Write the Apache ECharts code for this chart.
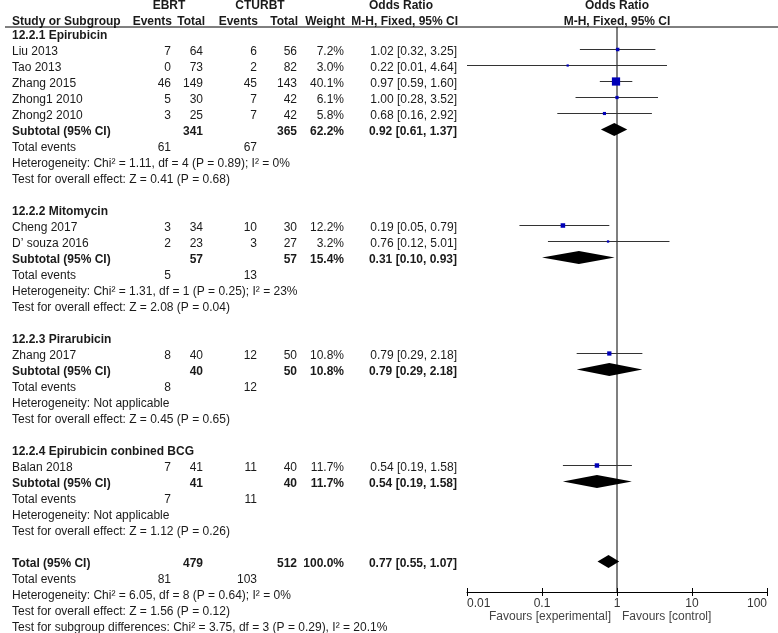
<!DOCTYPE html>
<html>
<head>
<meta charset="utf-8">
<script src="https://cdn.jsdelivr.net/npm/echarts@6/dist/echarts.min.js"></script>
<style>html,body{margin:0;padding:0;background:#fff}#c{width:778px;height:633px}</style>
</head>
<body>
<div id="c"></div>
<script>
// ---------- data ----------
const groupTitles = ['12.2.1 Epirubicin', '12.2.2 Mitomycin', '12.2.3 Pirarubicin', '12.2.4 Epirubicin conbined BCG'];
const studyNames = ['Liu 2013', 'Tao 2013', 'Zhang 2015', 'Zhong1 2010', 'Zhong2 2010', 'Cheng 2017', 'D\u2019 souza 2016', 'Zhang 2017', 'Balan 2018'];
const studyGroup = [0, 0, 0, 0, 0, 1, 1, 2, 3];
const ebrtEvents = [7, 0, 46, 5, 3, 3, 2, 8, 7];
const ebrtTotal = [64, 73, 149, 30, 25, 34, 23, 40, 41];
const cturbtEvents = [6, 2, 45, 7, 7, 10, 3, 12, 11];
const cturbtTotal = [56, 82, 143, 42, 42, 30, 27, 50, 40];
const studyWeight = [7.2, 3.0, 40.1, 6.1, 5.8, 12.2, 3.2, 10.8, 11.7];
const orEst = [1.02, 0.22, 0.97, 1.00, 0.68, 0.19, 0.76, 0.79, 0.54];
const orLow = [0.32, 0.01, 0.59, 0.28, 0.16, 0.05, 0.12, 0.29, 0.19];
const orHigh = [3.25, 4.64, 1.60, 3.52, 2.92, 0.79, 5.01, 2.18, 1.58];

const subEbrtTotal = [341, 57, 40, 41];
const subCturbtTotal = [365, 57, 50, 40];
const subWeight = [62.2, 15.4, 10.8, 11.7];
const subOr = [0.92, 0.31, 0.79, 0.54];
const subLow = [0.61, 0.10, 0.29, 0.19];
const subHigh = [1.37, 0.93, 2.18, 1.58];
const subEbrtEvents = [61, 5, 8, 7];
const subCturbtEvents = [67, 13, 12, 11];
const subHetero = ['Chi\u00b2 = 1.11, df = 4 (P = 0.89); I\u00b2 = 0%', 'Chi\u00b2 = 1.31, df = 1 (P = 0.25); I\u00b2 = 23%', 'Not applicable', 'Not applicable'];
const subEffect = ['Z = 0.41 (P = 0.68)', 'Z = 2.08 (P = 0.04)', 'Z = 0.45 (P = 0.65)', 'Z = 1.12 (P = 0.26)'];

const totalEbrtTotal = 479, totalCturbtTotal = 512, totalWeight = 100.0;
const totalOr = [0.77], totalLow = [0.55], totalHigh = [1.07];
const totalEbrtEvents = 81, totalCturbtEvents = 103;
const totalHetero = 'Chi\u00b2 = 6.05, df = 8 (P = 0.64); I\u00b2 = 0%';
const totalEffect = 'Z = 1.56 (P = 0.12)';
const subgroupDiff = 'Chi\u00b2 = 3.75, df = 3 (P = 0.29), I\u00b2 = 20.1%';

const tickValues = [0.01, 0.1, 1, 10, 100];
const tickLabels = ['0.01', '0.1', '1', '10', '100'];

// ---------- layout (pixel columns of the table) ----------
const FONT = '"Liberation Sans", Arial, sans-serif';
const X_NAME = 12, X_EE = 171, X_ET = 203, X_CE = 257, X_CT = 297, X_W = 344, X_OR = 457;
const Y_MIN = -2.09375, Y_MAX = 34.90625;
const fmtOr = (e, l, h) => e.toFixed(2) + ' [' + l.toFixed(2) + ', ' + h.toFixed(2) + ']';

const texts = [];
function T(x, row, text, align, bold, color) {
  texts.push({ x: x, row: row, text: String(text), align: align || 'left', bold: !!bold, color: color || '#1a1a1a' });
}
// headers
T(169, -1.875, 'EBRT', 'center', true);
T(260, -1.875, 'CTURBT', 'center', true);
T(401, -1.875, 'Odds Ratio', 'center', true);
T(617, -1.875, 'Odds Ratio', 'center', true);
T(X_NAME, -0.92, 'Study or Subgroup', 'left', true);
T(X_EE + 1, -0.92, 'Events', 'right', true);
T(X_ET + 2, -0.92, 'Total', 'right', true);
T(X_CE + 1, -0.92, 'Events', 'right', true);
T(X_CT + 1, -0.92, 'Total', 'right', true);
T(X_W + 1, -0.92, 'Weight', 'right', true);
T(X_OR + 1, -0.92, 'M-H, Fixed, 95% CI', 'right', true);
T(617, -0.92, 'M-H, Fixed, 95% CI', 'center', true);

const studyRows = [], subRows = [];
let r = 0;
for (let g = 0; g < groupTitles.length; g++) {
  T(X_NAME, r, groupTitles[g], 'left', true); r++;
  for (let i = 0; i < studyNames.length; i++) {
    if (studyGroup[i] !== g) continue;
    T(X_NAME, r, studyNames[i]);
    T(X_EE, r, ebrtEvents[i], 'right');
    T(X_ET, r, ebrtTotal[i], 'right');
    T(X_CE, r, cturbtEvents[i], 'right');
    T(X_CT, r, cturbtTotal[i], 'right');
    T(X_W, r, studyWeight[i].toFixed(1) + '%', 'right');
    T(X_OR, r, fmtOr(orEst[i], orLow[i], orHigh[i]), 'right');
    studyRows[i] = r; r++;
  }
  T(X_NAME, r, 'Subtotal (95% CI)', 'left', true);
  T(X_ET, r, subEbrtTotal[g], 'right', true);
  T(X_CT, r, subCturbtTotal[g], 'right', true);
  T(X_W, r, subWeight[g].toFixed(1) + '%', 'right', true);
  T(X_OR, r, fmtOr(subOr[g], subLow[g], subHigh[g]), 'right', true);
  subRows[g] = r; r++;
  T(X_NAME, r, 'Total events');
  T(X_EE, r, subEbrtEvents[g], 'right');
  T(X_CE, r, subCturbtEvents[g], 'right'); r++;
  T(X_NAME, r, 'Heterogeneity: ' + subHetero[g]); r++;
  T(X_NAME, r, 'Test for overall effect: ' + subEffect[g]); r++;
  r++;
}
const totalRow = r;
T(X_NAME, r, 'Total (95% CI)', 'left', true);
T(X_ET, r, totalEbrtTotal, 'right', true);
T(X_CT, r, totalCturbtTotal, 'right', true);
T(X_W, r, totalWeight.toFixed(1) + '%', 'right', true);
T(X_OR, r, fmtOr(totalOr[0], totalLow[0], totalHigh[0]), 'right', true); r++;
T(X_NAME, r, 'Total events');
T(X_EE, r, totalEbrtEvents, 'right');
T(X_CE, r, totalCturbtEvents, 'right'); r++;
T(X_NAME, r, 'Heterogeneity: ' + totalHetero); r++;
T(X_NAME, r, 'Test for overall effect: ' + totalEffect); r++;
T(X_NAME, r, 'Test for subgroup differences: ' + subgroupDiff); r++;
// favours labels
T(611, 36.3125, 'Favours [experimental]', 'right', false, '#444');
T(622, 36.3125, 'Favours [control]', 'left', false, '#444');

const studyData = studyNames.map((_, i) => [orEst[i], studyRows[i], orLow[i], orHigh[i], studyWeight[i]]);
const diamondData = subOr.map((v, g) => [v, subRows[g], subLow[g], subHigh[g]]);
diamondData.push([totalOr[0], totalRow, totalLow[0], totalHigh[0]]);

const chart = echarts.init(document.getElementById('c'));
const option = {
  animation: false,
  backgroundColor: '#fff',
  grid: [
    { left: 467, width: 300, top: 0, height: 592 },
    { left: 0, top: 0, width: 778, height: 633 }
  ],
  xAxis: [
    {
      type: 'log', logBase: 10, min: 0.01, max: 100, gridIndex: 0, position: 'bottom',
      axisLine: { show: true, onZero: false, lineStyle: { color: '#000', width: 1 } },
      axisTick: { show: true, inside: false, length: 4, lineStyle: { color: '#000' } },
      splitLine: { show: false },
      axisLabel: {
        margin: 6, fontSize: 12, fontFamily: FONT, color: '#333',
        alignMinLabel: 'left', alignMaxLabel: 'right',
        formatter: function (v) {
          const k = Math.round(Math.log10(v));
          const idx = tickValues.findIndex(t => Math.round(Math.log10(t)) === k);
          return idx >= 0 ? tickLabels[idx] : '';
        }
      }
    },
    { type: 'value', min: 0, max: 778, gridIndex: 1, show: false, axisLine: { onZero: false } }
  ],
  yAxis: [
    { type: 'value', inverse: true, min: Y_MIN, max: Y_MAX, gridIndex: 0, show: false, axisLine: { onZero: false } },
    { type: 'value', inverse: true, min: -2.25, max: 37.3125, gridIndex: 1, show: false, axisLine: { onZero: false } }
  ],
  series: [
    {
      type: 'line', xAxisIndex: 0, yAxisIndex: 0, symbol: 'none', silent: true,
      data: [[1, -0.40625], [1, Y_MAX]],
      lineStyle: { color: '#7f7f7f', width: 2 }, z: 1
    },
    {
      // upper half of the axis ticks (crossing the axis line)
      type: 'custom', xAxisIndex: 0, yAxisIndex: 0, z: 3, silent: true,
      data: tickValues.map(v => [v, Y_MAX]),
      encode: { x: 0, y: 1 },
      renderItem: function (params, api) {
        const p = api.coord([api.value(0), api.value(1)]);
        const x = Math.round(p[0]) + 0.5;
        return { type: 'line', shape: { x1: x, y1: p[1], x2: x, y2: p[1] - 4 }, style: { stroke: '#000', lineWidth: 1 } };
      }
    },
    {
      type: 'custom', xAxisIndex: 0, yAxisIndex: 0, z: 3,
      data: studyData,
      encode: { x: 0, y: 1 },
      renderItem: function (params, api) {
        const row = api.value(1);
        const p = api.coord([api.value(0), row]);
        const lo = api.coord([api.value(2), row]);
        const hi = api.coord([api.value(3), row]);
        const s = Math.max(2, 1.3 * Math.sqrt(api.value(4)));
        return {
          type: 'group', children: [
            { type: 'line', shape: { x1: lo[0], y1: p[1], x2: hi[0], y2: p[1] }, style: { stroke: '#333', lineWidth: 1 } },
            { type: 'rect', shape: { x: p[0] - s / 2, y: p[1] - s / 2, width: s, height: s }, style: { fill: '#0000b8' } }
          ]
        };
      }
    },
    {
      type: 'custom', xAxisIndex: 0, yAxisIndex: 0, z: 3,
      data: diamondData,
      encode: { x: 0, y: 1 },
      renderItem: function (params, api) {
        const row = api.value(1);
        const p = api.coord([api.value(0), row]);
        const lo = api.coord([api.value(2), row]);
        const hi = api.coord([api.value(3), row]);
        const h = 6.5;
        return {
          type: 'polygon',
          shape: { points: [[lo[0], p[1]], [p[0], p[1] - h], [hi[0], p[1]], [p[0], p[1] + h]] },
          style: { fill: '#000' }
        };
      }
    },
    {
      type: 'custom', xAxisIndex: 1, yAxisIndex: 1, z: 2, silent: true,
      data: texts.map((_, i) => [texts[i].x, texts[i].row]),
      encode: { x: 0, y: 1 },
      renderItem: function (params, api) {
        const t = texts[params.dataIndex];
        const p = api.coord([t.x, t.row]);
        return {
          type: 'text',
          style: {
            x: p[0], y: p[1], text: t.text,
            align: t.align, verticalAlign: 'middle',
            textAlign: t.align, textVerticalAlign: 'middle',
            font: (t.bold ? 'bold ' : '') + '12px ' + FONT,
            fill: t.color
          }
        };
      }
    },
    {
      type: 'custom', xAxisIndex: 1, yAxisIndex: 1, z: 2, silent: true,
      data: [[5, -0.5625, 778]],
      encode: { x: 0, y: 1 },
      renderItem: function (params, api) {
        const a = api.coord([api.value(0), api.value(1)]);
        const b = api.coord([api.value(2), api.value(1)]);
        return { type: 'line', shape: { x1: a[0], y1: a[1], x2: b[0], y2: b[1] }, style: { stroke: '#000', lineWidth: 1 } };
      }
    }
  ]
};
chart.setOption(option);
</script>
</body>
</html>
